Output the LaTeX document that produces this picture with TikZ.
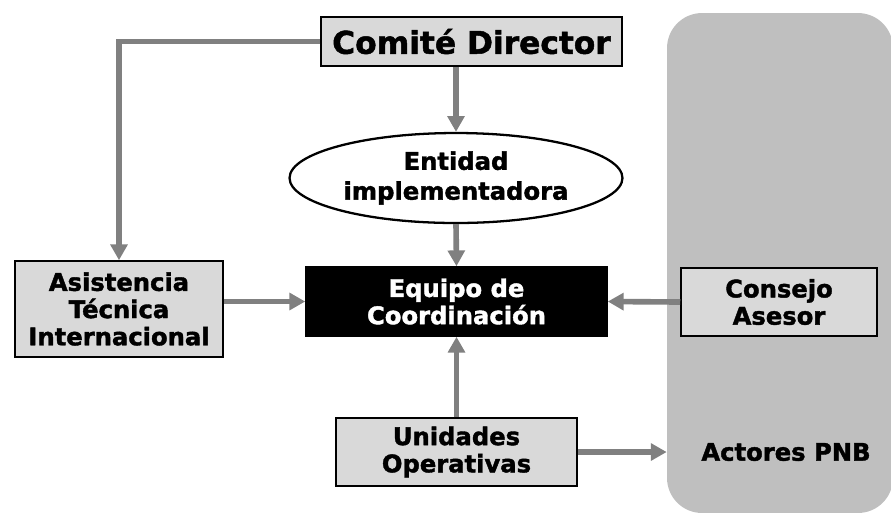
\documentclass[tikz,border=0pt]{standalone}
\usepackage{fontspec}
\setmainfont{DejaVu Sans}[BoldFeatures={FakeBold=1.6}]
\definecolor{BoxGray}{RGB}{217, 217, 217}
\definecolor{LineGray}{RGB}{128, 128, 128}
\definecolor{ZoneGray}{RGB}{191, 191, 191}
\usetikzlibrary{arrows.meta, positioning, shapes, calc}

\begin{document}
\begin{tikzpicture}[
            x=0.02cm, y=-0.02cm,
            box/.style={rectangle, draw=black, line width=0.9pt, fill=BoxGray, inner sep=0pt,
                        align=center, font=\bfseries\fontsize{13.8}{15.5}\selectfont},
            core/.style={box, fill=black, text=white},
            bubble/.style={ellipse, draw=black, line width=1.3pt, fill=white, inner sep=0pt,
                           minimum width=6.66cm, minimum height=1.8cm, align=center,
                           font=\bfseries\fontsize{13.8}{17}\selectfont},
            zone/.style={rectangle, rounded corners=0.7cm, fill=ZoneGray, inner sep=0pt},
            arrow/.style={-{Triangle[length=9pt, width=9.5pt]}, line width=3.2pt, LineGray}
        ]
            \useasboundingbox (0,0) rectangle (891,512);
            \node[zone, minimum width=4.52cm, minimum height=10cm] (actores) at (780,263) {};
            \node[font=\bfseries\fontsize{13.8}{15.5}\selectfont] (pnb) at (786,452) {Actores PNB};

            \node[box, minimum width=6.02cm, minimum height=0.98cm,
                  font=\bfseries\fontsize{17.8}{20}\selectfont] (comite) at (471.5,41.5) {Comité Director};
            \node[bubble] (entidad) at (456,178) {Entidad\\implementadora};
            \node[core, minimum width=6.02cm, minimum height=1.38cm] (equipo) at (456.5,301.5) {Equipo de\\Coordinación};
            \node[box, minimum width=4.16cm, minimum height=1.92cm] (asistencia) at (119,309) {Asistencia\\Técnica\\Internacional};
            \node[box, minimum width=3.92cm, minimum height=1.36cm] (consejo) at (779,302) {Consejo\\Asesor};
            \node[box, minimum width=4.82cm, minimum height=1.36cm] (unidades) at (456.5,452) {Unidades\\Operativas};

            \draw[arrow] (comite.west) -| (asistencia.north);
            \draw[arrow] (entidad.north |- comite.south) -- (entidad.north);
            \draw[arrow] (entidad.south) -- (equipo.north);
            \draw[arrow] (equipo.west -| asistencia.east) -- (equipo.west);
            \draw[arrow] (consejo.west) -- (equipo.east);
            \draw[arrow] (unidades.north) -- (equipo.south);
            \draw[arrow] (unidades.east) -- (unidades.east -| actores.west);
        \end{tikzpicture}
\end{document}
